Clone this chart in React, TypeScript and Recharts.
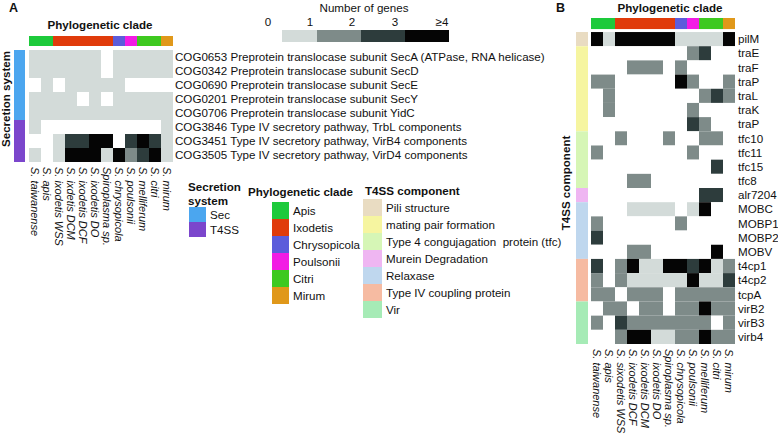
import { Bar, BarChart, Cell, XAxis, YAxis } from "recharts";

const W = 778;
const H = 438;
const FONT = '"Liberation Sans", Arial, Helvetica, sans-serif';
const FS = 11.6;

// gene-count scale (0, 1, 2, 3, >=4)
const GENE_LEVELS = ["0", "1", "2", "3", "≥4"];
const LEVEL_COLORS = ["#ffffff", "#d3dbd9", "#7e8b89", "#2d3c3c", "#050505"];

const CLADES = ["Apis", "Ixodetis", "Chrysopicola", "Poulsonii", "Citri", "Mirum"];
const CLADE_COLORS = ["#1dca3b", "#e03b0b", "#5c5cdb", "#f21ce4", "#3ec920", "#e0981a"];
// clade of each column (same order in both panels)
const SPECIES_CLADE = [0, 0, 1, 1, 1, 1, 1, 2, 3, 4, 4, 5];

const SPECIES_A = [
  "S. taiwanense", "S. apis", "S. ixodetis WSS", "S. ixdetis DCM", "S. ixodetis DCF", "S. ixodetis DO",
  "Spiroplasma sp.", "S. chrysopicola", "S. poulsonii", "S. melliferum", "S. citri", "S. mirum",
];
const SPECIES_B = [
  "S. taiwanense", "S. apis", "S. sixodetis WSS", "S. ixodetis DCF", "S. ixodetis DCM", "S. ixodetis DO",
  "Spiroplasma sp.", "S. chrysopicola", "S. poulsonii", "S. melliferum", "S. citri", "S. mirum",
];

// Panel A
const COG_LABELS = [
  "COG0653 Preprotein translocase subunit SecA (ATPase, RNA helicase)",
  "COG0342 Preprotein translocase subunit SecD",
  "COG0690 Preprotein translocase subunit SecE",
  "COG0201 Preprotein translocase subunit SecY",
  "COG0706 Preprotein translocase subunit YidC",
  "COG3846 Type IV secretory pathway, TrbL components",
  "COG3451 Type IV secretory pathway, VirB4 components",
  "COG3505 Type IV secretory pathway, VirD4 components",
];
const COG_SYSTEM = ["Sec", "Sec", "Sec", "Sec", "Sec", "T4SS", "T4SS", "T4SS"];
const COG_COUNTS = [
  [1, 1, 1, 1, 1, 1, 0, 1, 1, 1, 1, 1],
  [1, 1, 1, 1, 1, 1, 0, 1, 1, 1, 1, 1],
  [0, 1, 0, 1, 1, 1, 1, 1, 0, 0, 0, 0],
  [1, 1, 1, 1, 0, 1, 0, 1, 1, 1, 1, 1],
  [1, 1, 1, 1, 1, 1, 1, 1, 1, 1, 1, 1],
  [1, 0, 0, 0, 0, 0, 0, 0, 0, 0, 0, 1],
  [0, 0, 1, 3, 3, 4, 4, 0, 3, 4, 3, 1],
  [1, 0, 1, 4, 4, 4, 1, 4, 2, 3, 4, 1],
];
const SYSTEMS = ["Sec", "T4SS"];
const SYSTEM_COLORS = ["#4ba6ef", "#7b46cc"];

// Panel B
const T4SS_GENES = [
  "pilM", "traE", "traF", "traP", "traL", "traK", "traP", "tfc10", "tfc11", "tfc15", "tfc8",
  "alr7204", "MOBC", "MOBP1", "MOBP2", "MOBV", "t4cp1", "t4cp2", "tcpA", "virB2", "virB3", "virb4",
];
const T4SS_GROUP = [0, 1, 1, 1, 1, 1, 1, 2, 2, 2, 2, 3, 4, 4, 4, 4, 5, 5, 5, 6, 6, 6];
const T4SS_COUNTS = [
  [4, 1, 4, 4, 4, 4, 4, 1, 1, 1, 1, 4],
  [0, 0, 0, 0, 0, 0, 0, 0, 2, 3, 0, 0],
  [0, 0, 0, 2, 2, 2, 0, 2, 0, 0, 0, 0],
  [2, 2, 0, 0, 0, 0, 0, 4, 2, 0, 0, 2],
  [0, 2, 0, 0, 0, 0, 0, 0, 0, 2, 3, 2],
  [0, 2, 0, 0, 0, 0, 0, 0, 2, 0, 0, 0],
  [0, 0, 0, 0, 0, 0, 0, 0, 3, 2, 0, 0],
  [0, 0, 2, 0, 0, 0, 2, 0, 0, 2, 2, 0],
  [2, 0, 0, 0, 0, 0, 0, 0, 2, 0, 0, 0],
  [0, 0, 0, 0, 0, 0, 0, 0, 0, 0, 3, 0],
  [0, 0, 0, 2, 2, 0, 0, 0, 0, 0, 0, 0],
  [0, 0, 0, 0, 0, 0, 0, 0, 0, 3, 3, 0],
  [0, 0, 0, 1, 1, 1, 1, 0, 1, 4, 0, 0],
  [2, 0, 0, 0, 0, 0, 0, 2, 0, 0, 0, 0],
  [3, 0, 0, 0, 0, 0, 0, 0, 0, 0, 0, 0],
  [0, 0, 0, 2, 2, 0, 0, 0, 0, 0, 4, 0],
  [3, 0, 2, 4, 1, 1, 4, 4, 3, 4, 1, 2],
  [2, 0, 2, 1, 1, 1, 1, 1, 4, 1, 1, 3],
  [2, 2, 0, 2, 2, 2, 0, 2, 2, 2, 2, 2],
  [0, 2, 2, 0, 2, 2, 0, 2, 2, 4, 2, 2],
  [2, 0, 3, 2, 2, 2, 2, 2, 2, 2, 0, 2],
  [0, 0, 2, 4, 4, 1, 1, 2, 2, 4, 2, 2],
];
const T4SS_COMPONENTS = [
  "Pili structure", "mating pair formation", "Type 4 congujagation  protein (tfc)",
  "Murein Degradation", "Relaxase", "Type IV coupling protein", "Vir",
];
const COMPONENT_COLORS = ["#e9dcc2", "#f6f5a0", "#d6f6b6", "#efb6f2", "#bfd7ee", "#f6bba2", "#a6ebb6"];

type Box = { left: number; right: number; top: number; bottom: number };

function Heatmap({
  species, rows, counts, box, cladeUnits, gapUnits, labelGap,
}: {
  species: string[]; rows: string[]; counts: number[][]; box: Box;
  cladeUnits: number; gapUnits: number; labelGap: number;
}) {
  const data = species.map((name) => {
    const d: Record<string, string | number> = { name, clade: cladeUnits, gap: gapUnits };
    rows.forEach((_, i) => (d[`r${i}`] = 1));
    return d;
  });
  const head = cladeUnits + gapUnits;
  const ticks = rows.map((_, i) => head + i + 0.5);
  return (
    <div style={{ position: "absolute", left: 0, top: 0 }}>
      <BarChart width={W} height={H} data={data} barCategoryGap={0} barGap={0}
        margin={{ top: box.top, left: box.left, right: 0, bottom: 0 }}>
        <XAxis dataKey="name" height={H - box.bottom} axisLine={false} tickLine={false} tickSize={0}
          tickMargin={5} interval={0}
          tick={(p: any) => (
            <text x={p.x} y={p.y} dy="0.35em" transform={`rotate(90, ${p.x}, ${p.y})`} fontStyle="italic"
              fontFamily={FONT} fontSize={11} fill="#111">{p.payload.value}</text>
          )} />
        <YAxis orientation="right" type="number" domain={[0, head + rows.length]} reversed ticks={ticks}
          width={W - box.right} axisLine={false} tickLine={false} tickSize={0} tickMargin={labelGap} interval={0}
          tick={(p: any) => (
            <text x={p.x} y={p.y} dy="0.36em" textAnchor="start" fontFamily={FONT} fontSize={FS} fill="#111">
              {rows[Math.round(p.payload.value - head - 0.5)]}
            </text>
          )} />
        <Bar dataKey="clade" stackId="s" isAnimationActive={false}>
          {species.map((_, j) => <Cell key={j} fill={CLADE_COLORS[SPECIES_CLADE[j]]} />)}
        </Bar>
        <Bar dataKey="gap" stackId="s" fill="none" isAnimationActive={false} />
        {rows.map((_, i) => (
          <Bar key={i} dataKey={`r${i}`} stackId="s" isAnimationActive={false}>
            {counts[i].map((v, j) => <Cell key={j} fill={LEVEL_COLORS[v]} />)}
          </Bar>
        ))}
      </BarChart>
    </div>
  );
}

// one-column stacked bar: rows grouped into consecutive blocks
function SideBar({ groups, colors, box }: { groups: number[]; colors: string[]; box: Box }) {
  const d: Record<string, string | number> = { name: "g" };
  const keys: { key: string; color: string }[] = [];
  groups.forEach((g, i) => {
    if (i === 0 || groups[i - 1] !== g) keys.push({ key: `b${keys.length}`, color: colors[g] });
    const k = keys[keys.length - 1].key;
    d[k] = ((d[k] as number) || 0) + 1;
  });
  return (
    <div style={{ position: "absolute", left: 0, top: 0 }}>
      <BarChart width={W} height={H} data={[d]} barCategoryGap={0}
        margin={{ top: box.top, left: box.left, right: W - box.right, bottom: H - box.bottom }}>
        <XAxis dataKey="name" hide />
        <YAxis hide type="number" domain={[0, groups.length]} reversed />
        {keys.map((k) => (
          <Bar key={k.key} dataKey={k.key} stackId="s" fill={k.color} isAnimationActive={false} />
        ))}
      </BarChart>
    </div>
  );
}

const txt = (left: number, top: number, s: string, extra: React.CSSProperties = {}) => (
  <div style={{ position: "absolute", left, top, whiteSpace: "pre", lineHeight: 1, ...extra }}>{s}</div>
);

const vtxt = (cx: number, cy: number, s: string) => (
  <div style={{
    position: "absolute", left: cx, top: cy, whiteSpace: "nowrap", fontWeight: "bold", lineHeight: 1,
    transform: "translate(-50%, -50%) rotate(-90deg)",
  }}>{s}</div>
);

function Swatches({ x, y, labels, colors, step, w }: {
  x: number; y: number; labels: string[]; colors: string[]; step: number; w: number;
}) {
  return (
    <>
      {labels.map((l, i) => (
        <div key={l}>
          <div style={{ position: "absolute", left: x, top: y + i * step, width: w, height: step, background: colors[i] }} />
          {txt(x + w + 4, y + i * step + step / 2 - 6, l)}
        </div>
      ))}
    </>
  );
}

export default function App() {
  const sysIdx = COG_SYSTEM.map((s) => SYSTEMS.indexOf(s));
  const levelX = [268, 310, 352, 395, 442];
  const segX = [282, 317, 361, 405, 449];
  return (
    <div style={{
      position: "absolute", left: 0, top: 0, width: W, height: H, background: "#fff",
      fontFamily: FONT, fontSize: FS, color: "#111", overflow: "hidden",
    }}>
      {/* panel A */}
      {txt(9, 2, "A", { fontWeight: "bold", fontSize: 12.5 })}
      {txt(100, 19, "Phylogenetic clade", { fontWeight: "bold", transform: "translateX(-50%)" })}
      {vtxt(6, 99, "Secretion system")}
      <SideBar groups={sysIdx} colors={SYSTEM_COLORS} box={{ left: 14, right: 25, top: 50, bottom: 162 }} />
      <Heatmap species={SPECIES_A} rows={COG_LABELS} counts={COG_COUNTS}
        box={{ left: 29, right: 173, top: 36, bottom: 162 }} cladeUnits={10 / 14} gapUnits={4 / 14} labelGap={2} />

      {/* gene count legend */}
      {txt(364, 2, "Number of genes", { transform: "translateX(-50%)" })}
      {GENE_LEVELS.map((l, i) => (
        <div key={l}>
          {txt(levelX[i], 16, l, { transform: "translateX(-50%)" })}
          {i > 0 && (
            <div style={{
              position: "absolute", left: segX[i - 1], top: 30, width: segX[i] - segX[i - 1], height: 12,
              background: LEVEL_COLORS[i],
            }} />
          )}
        </div>
      ))}

      {/* legends */}
      {txt(188, 180, "Secretion\nsystem", { fontWeight: "bold", lineHeight: "14px" })}
      <Swatches x={189} y={207} labels={SYSTEMS} colors={SYSTEM_COLORS} step={15} w={17} />
      {txt(248, 186, "Phylogenetic clade", { fontWeight: "bold" })}
      <Swatches x={272} y={202} labels={CLADES} colors={CLADE_COLORS} step={17} w={17} />
      {txt(365, 185, "T4SS component", { fontWeight: "bold" })}
      <Swatches x={363} y={199} labels={T4SS_COMPONENTS} colors={COMPONENT_COLORS} step={17} w={19} />

      {/* panel B */}
      {txt(556, 2, "B", { fontWeight: "bold", fontSize: 12.5 })}
      {txt(670, 2, "Phylogenetic clade", { fontWeight: "bold", transform: "translateX(-50%)" })}
      {vtxt(566, 183, "T4SS component")}
      <SideBar groups={T4SS_GROUP} colors={COMPONENT_COLORS} box={{ left: 576, right: 588, top: 32, bottom: 344 }} />
      <Heatmap species={SPECIES_B} rows={T4SS_GENES} counts={T4SS_COUNTS}
        box={{ left: 591, right: 735, top: 18, bottom: 344 }} cladeUnits={0.78} gapUnits={0.21} labelGap={3} />
    </div>
  );
}
